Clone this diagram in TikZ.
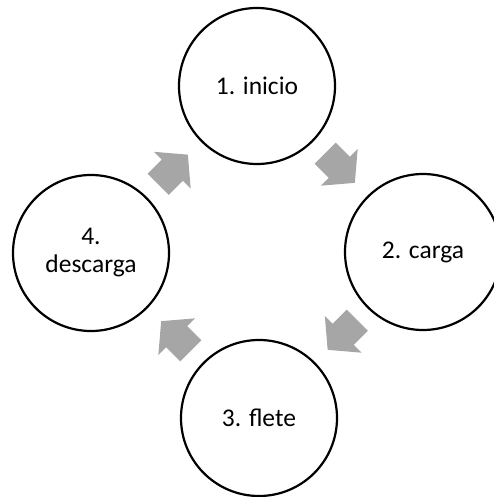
\documentclass[tikz,border=0pt]{standalone}
\usepackage{fontspec}
\setmainfont{Carlito}
\definecolor{arrowgray}{HTML}{A6A6A6}
\begin{document}
\begin{tikzpicture}[x=1pt,y=-1pt,
  stage/.style={circle,draw=black,line width=2.2pt,minimum size=156pt,inner sep=0pt,
    align=center,font=\fontsize{25.5}{28}\selectfont,fill=white},
  cyclearrow/.style={fill=arrowgray,draw=none}]
\useasboundingbox (0,0) rectangle (493,497);
\node[stage] (s1) at (257,86) {1. inicio};
\node[stage] (s2) at (423,252) {2. carga};
\node[stage] (s3) at (259,418) {3. flete};
\node[stage] (s4) at (91,253) {4.\\descarga};
\foreach \cx/\cy/\ang in {340/168/-45, 342.5/335/-135, 176/336/135, 173/169.5/45}{
  \fill[cyclearrow,shift={(\cx,\cy)},rotate=\ang]
    (-21pt,15pt) -- (-1pt,15pt) -- (-1pt,26pt) -- (21pt,0pt) -- (-1pt,-26pt)
    -- (-1pt,-15pt) -- (-21pt,-15pt) -- cycle;
}
\end{tikzpicture}
\end{document}
